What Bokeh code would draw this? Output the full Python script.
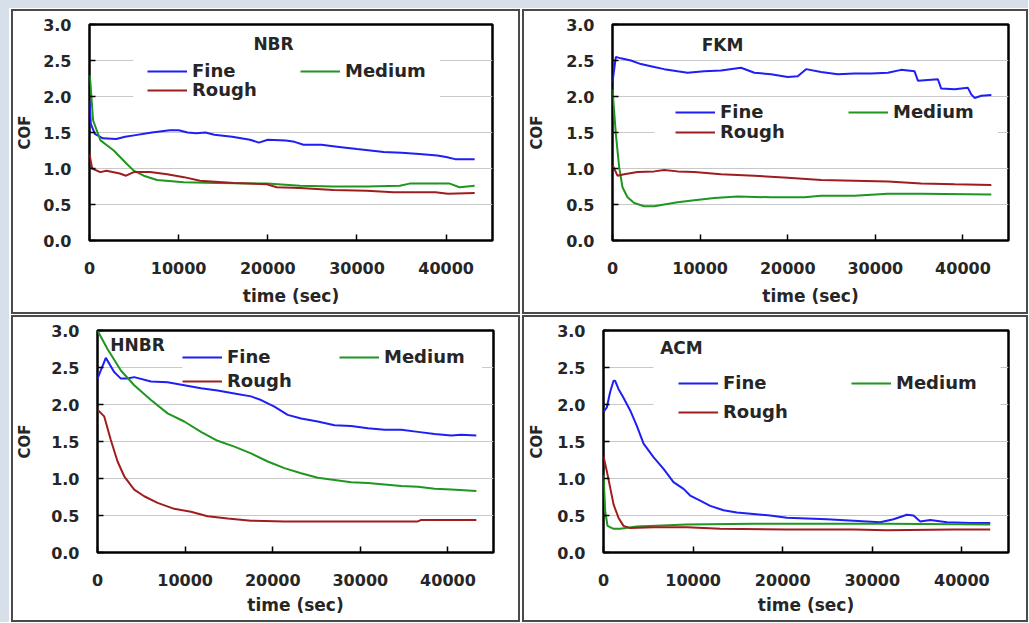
from bokeh.plotting import figure
from bokeh.models import (Legend, LegendItem, Label, Title, BoxAnnotation,
                          FixedTicker, PrintfTickFormatter, Range1d)
from bokeh.layouts import row, column
from bokeh.embed import file_html
from bokeh.resources import INLINE

# ---------------- data ----------------
x_ticks = [0, 10000, 20000, 30000, 40000]
y_ticks = [0.0, 0.5, 1.0, 1.5, 2.0, 2.5, 3.0]
series_names = ["Fine", "Medium", "Rough"]
panel_names = ["NBR", "FKM", "HNBR", "ACM"]

nbr_fine_t = [0, 150, 600, 1500, 3000, 4000, 5000, 7000, 9000, 10000, 11000, 12000, 13000, 14000, 16000,
              18000, 19000, 20000, 22000, 23000, 24000, 26000, 28000, 30000, 33000, 35000, 37000, 39000,
              40000, 41000, 43200]
nbr_fine_cof = [1.95, 1.62, 1.48, 1.42, 1.41, 1.44, 1.46, 1.50, 1.53, 1.53, 1.50, 1.49, 1.50, 1.47, 1.44,
                1.40, 1.36, 1.40, 1.39, 1.37, 1.33, 1.33, 1.30, 1.27, 1.23, 1.22, 1.20, 1.18,
                1.16, 1.13, 1.13]
nbr_medium_t = [0, 100, 400, 1230, 2720, 4220, 4960, 6080, 7570, 10560, 14300, 19900, 23600, 27350, 31100,
                34800, 35900, 40400, 41500, 43200]
nbr_medium_cof = [2.30, 2.20, 1.67, 1.39, 1.25, 1.06, 0.97, 0.90, 0.84, 0.81, 0.80, 0.79, 0.76, 0.75, 0.75,
                  0.76, 0.79, 0.79, 0.74, 0.76]
nbr_rough_t = [0, 300, 1200, 1900, 3400, 4100, 4960, 6800, 8700, 10600, 12400, 16200, 19900, 21000, 23600,
               27350, 31100, 34100, 38800, 40200, 43200]
nbr_rough_cof = [1.20, 1.00, 0.95, 0.97, 0.93, 0.90, 0.95, 0.95, 0.92, 0.88, 0.83, 0.80, 0.78, 0.74, 0.73,
                 0.70, 0.69, 0.67, 0.67, 0.65, 0.66]

fkm_fine_t = [0, 380, 950, 2100, 3240, 4760, 5900, 7430, 8570, 10480, 12380, 14670, 16190, 18100, 20000,
              21140, 22100, 23810, 25710, 27620, 29520, 31430, 32950, 34480, 34860, 37140, 37520, 39050,
              40570, 40950, 41330, 42100, 43240]
fkm_fine_cof = [2.20, 2.55, 2.53, 2.50, 2.45, 2.41, 2.38, 2.35, 2.33, 2.35, 2.36, 2.40, 2.33, 2.31, 2.27,
                2.28, 2.38, 2.34, 2.31, 2.32, 2.32, 2.33, 2.37, 2.35, 2.22, 2.24, 2.11, 2.10,
                2.12, 2.03, 1.98, 2.01, 2.02]
fkm_medium_t = [0, 380, 760, 1140, 1710, 2480, 3620, 4760, 5900, 7430, 9330, 11620, 14290, 18100, 21900,
                23810, 27620, 31430, 35240, 43240]
fkm_medium_cof = [2.10, 1.48, 1.02, 0.74, 0.60, 0.52, 0.475, 0.475, 0.50, 0.53, 0.56, 0.59, 0.61, 0.60, 0.60,
                  0.62, 0.62, 0.65, 0.65, 0.64]
fkm_rough_t = [0, 570, 1330, 2860, 4760, 5900, 7430, 9330, 12380, 16190, 20000, 23810, 27620, 31430, 35240,
               39050, 43240]
fkm_rough_cof = [1.05, 0.90, 0.92, 0.95, 0.96, 0.98, 0.96, 0.95, 0.92, 0.90, 0.87, 0.84, 0.83, 0.82, 0.79,
                 0.78, 0.77]

hnbr_fine_t = [0, 950, 1900, 2670, 3430, 4190, 6100, 8000, 9900, 11810, 13710, 15620, 17520, 18670, 20190,
               21710, 23240, 25140, 27050, 28950, 30860, 32760, 34670, 36570, 38480, 40380, 41520, 43240]
hnbr_fine_cof = [2.35, 2.63, 2.44, 2.35, 2.35, 2.37, 2.31, 2.30, 2.26, 2.22, 2.19, 2.15, 2.11, 2.06, 1.97,
                 1.86, 1.81, 1.77, 1.72, 1.71, 1.68, 1.66, 1.66, 1.63, 1.60, 1.58, 1.59, 1.58]
hnbr_medium_t = [0, 1140, 2670, 4190, 6100, 8000, 9900, 11810, 13710, 15620, 17520, 19430, 21330, 23240,
                 25140, 27050, 28950, 30860, 32760, 34670, 36570, 38480, 40380, 43240]
hnbr_medium_cof = [3.00, 2.75, 2.46, 2.26, 2.06, 1.88, 1.77, 1.63, 1.51, 1.43, 1.34, 1.23, 1.14, 1.07,
                   1.01, 0.98, 0.95, 0.94, 0.92, 0.90, 0.89, 0.86, 0.85, 0.83]
hnbr_rough_t = [0, 760, 1520, 2290, 3050, 4190, 5330, 6860, 8760, 10670, 12570, 14860, 17520, 21330, 27050,
                36570, 36950, 43240]
hnbr_rough_cof = [1.93, 1.84, 1.52, 1.23, 1.03, 0.85, 0.76, 0.67, 0.59, 0.55, 0.49, 0.46, 0.43, 0.42, 0.42,
                  0.42, 0.44, 0.44]

acm_fine_t = [0, 370, 740, 1120, 1300, 1670, 2230, 2980, 3720, 4470, 5580, 6700, 7810, 8930, 9670, 10790,
              11910, 13400, 14880, 16740, 18600, 20470, 22700, 24930, 27910, 30880, 32370, 33860, 34600,
              35350, 36470, 38330, 40930, 43160]
acm_fine_cof = [1.90, 1.96, 2.17, 2.32, 2.32, 2.21, 2.09, 1.92, 1.71, 1.47, 1.29, 1.13, 0.95, 0.86, 0.77, 0.70,
                0.63, 0.57, 0.54, 0.52, 0.50, 0.47, 0.46, 0.45, 0.43, 0.41, 0.45, 0.51, 0.50,
                0.42, 0.44, 0.41, 0.40, 0.40]
acm_medium_t = [0, 190, 450, 1120, 1860, 3720, 9300, 16740, 24190, 31630, 43160]
acm_medium_cof = [1.05, 0.56, 0.36, 0.32, 0.32, 0.35, 0.38, 0.39, 0.39, 0.39, 0.38]
acm_rough_t = [0, 370, 740, 1120, 1670, 2230, 2980, 5580, 9300, 13020, 20470, 27910, 31630, 39070, 43160]
acm_rough_cof = [1.30, 1.10, 0.88, 0.65, 0.47, 0.36, 0.33, 0.34, 0.34, 0.32, 0.31, 0.31, 0.30, 0.31, 0.31]

# ---------------- style ----------------
FONT = "DejaVu Sans"
COLORS = {"Fine": "#1f1ff5", "Medium": "#1f961f", "Rough": "#a01d1d"}
X_MAX = 45200
BORDER = 2  # css border of each panel


def make_panel(name, data, size, borders, leg, title_at, mask, xlab_offset, ylab_standoff, xlab_standoff):
    w, h = size
    left, right, top, bottom = borders
    p = figure(width=w, height=h, x_range=Range1d(0, X_MAX), y_range=Range1d(0, 3),
               output_backend="svg", toolbar_location=None,
               min_border_left=left, min_border_right=right, min_border_top=top, min_border_bottom=bottom,
               background_fill_color="white", border_fill_color="white",
               styles={"border": f"{BORDER}px solid #4a4a4a"})
    p.outline_line_color = "black"
    p.outline_line_width = 2.5
    p.xgrid.grid_line_color = None
    p.ygrid.grid_line_color = "#c9c9c9"
    p.ygrid.grid_line_width = 1
    p.ygrid.ticker = FixedTicker(ticks=y_ticks)

    # white area behind the legend (hides grid lines like the original)
    p.add_layout(BoxAnnotation(left=mask[0], right=mask[1], bottom=mask[2], top=mask[3],
                               fill_color="white", fill_alpha=1.0, line_color=None, level="underlay"))

    for ax in (p.xaxis[0], p.yaxis[0]):
        ax.axis_line_color = None
        ax.major_tick_in = 6
        ax.major_tick_out = 0
        ax.minor_tick_line_color = None
        ax.major_tick_line_color = "black"
        ax.major_tick_line_width = 1.5
        ax.major_label_text_font = FONT
        ax.major_label_text_font_style = "bold"
        ax.major_label_text_font_size = "16px"
        ax.major_label_text_color = "#262626"
    p.xaxis.ticker = FixedTicker(ticks=x_ticks)
    p.xaxis.formatter = PrintfTickFormatter(format="%d")
    p.xaxis.major_label_standoff = 21
    p.yaxis.ticker = FixedTicker(ticks=y_ticks)
    p.yaxis.formatter = PrintfTickFormatter(format="%.1f")
    p.yaxis.major_label_standoff = 18
    p.yaxis.axis_label = "COF"
    p.yaxis.axis_label_text_font = FONT
    p.yaxis.axis_label_text_font_style = "bold"
    p.yaxis.axis_label_text_font_size = "15px"
    p.yaxis.axis_label_text_color = "#262626"
    p.yaxis.axis_label_standoff = ylab_standoff

    p.add_layout(Title(text="time (sec)", align="center", offset=xlab_offset, standoff=xlab_standoff,
                       text_font=FONT, text_font_style="bold", text_font_size="17px",
                       text_color="#262626"), "below")

    renderers = {}
    for s in series_names:
        t, c = data[s]
        renderers[s] = p.line(t, c, line_color=COLORS[s], line_width=2)

    for s in series_names:
        lx, ly = leg[s]
        p.add_layout(Legend(items=[LegendItem(label=s, renderers=[renderers[s]])],
                            location=(lx, ly - 10), orientation="vertical",
                            padding=0, margin=0, spacing=0,
                            glyph_width=40, glyph_height=20, label_height=20, label_standoff=5,
                            label_text_font=FONT, label_text_font_style="bold",
                            label_text_font_size="18px", label_text_color="#262626",
                            border_line_color=None, background_fill_alpha=0), "center")

    p.add_layout(Label(x=title_at[0], y=title_at[1], text=name, text_align="center",
                       text_baseline="middle", text_font=FONT, text_font_style="bold",
                       text_font_size="17px", text_color="#262626"))
    return p


p1 = make_panel("NBR", {"Fine": (nbr_fine_t, nbr_fine_cof), "Medium": (nbr_medium_t, nbr_medium_cof),
                        "Rough": (nbr_rough_t, nbr_rough_cof)},
                (509, 305), (76, 30, 13, 76),
                {"Fine": (58, 169), "Medium": (211, 169), "Rough": (58, 150)},
                (20640, 2.736), (4900, 39300, 1.8, 2.7), 20, 6, 15)
p2 = make_panel("FKM", {"Fine": (fkm_fine_t, fkm_fine_cof), "Medium": (fkm_medium_t, fkm_medium_cof),
                        "Rough": (fkm_rough_t, fkm_rough_cof)},
                (506, 305), (88, 22, 12, 76),
                {"Fine": (63, 128), "Medium": (236, 128), "Rough": (63, 108)},
                (12560, 2.72), (4760, 44000, 1.35, 1.9), 12, 17, 14)
p3 = make_panel("HNBR", {"Fine": (hnbr_fine_t, hnbr_fine_cof), "Medium": (hnbr_medium_t, hnbr_medium_cof),
                         "Rough": (hnbr_rough_t, hnbr_rough_cof)},
                (509, 307), (84, 29, 13, 71),
                {"Fine": (85, 195), "Medium": (242, 195), "Rough": (85, 171)},
                (4570, 2.80), (9700, 43900, 2.15, 2.8), 36, 14, 9)
p4 = make_panel("ACM", {"Fine": (acm_fine_t, acm_fine_cof), "Medium": (acm_medium_t, acm_medium_cof),
                        "Rough": (acm_rough_t, acm_rough_cof)},
                (506, 307), (79, 22, 13, 72),
                {"Fine": (75, 169), "Medium": (248, 169), "Rough": (75, 140)},
                (8700, 2.77), (5580, 44300, 1.8, 2.7), 7, 8, 9)

inner = column(row(p1, p2, spacing=2), row(p3, p4, spacing=2), spacing=1,
               styles={"background-color": "white", "padding-top": "1px", "padding-left": "2px"})
page = column(inner, styles={"background-color": "#d6dfea", "padding-top": "8px", "padding-left": "9px"})

open("out.html", "w").write(file_html(page, INLINE))
